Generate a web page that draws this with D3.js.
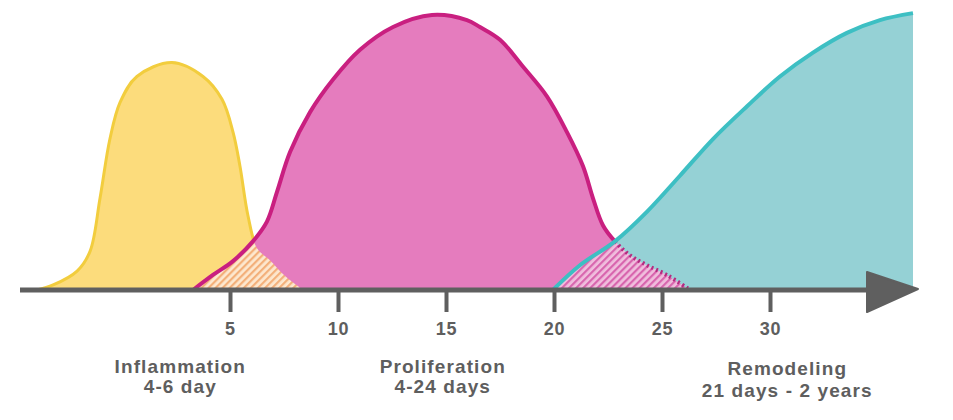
<!DOCTYPE html>
<html>
<head>
<meta charset="utf-8">
<script src="https://cdn.jsdelivr.net/npm/d3@7"></script>
<style>
  html, body { margin: 0; padding: 0; background: #ffffff; }
  svg { display: block; }
  text { font-family: "Liberation Sans", Arial, Helvetica, sans-serif; font-weight: bold; fill: #5e5e5e; }
</style>
</head>
<body>
<svg id="chart" width="953" height="420"></svg>
<script>
// ---- data (day, relative intensity 0-100) ----
const inflammation = [
  [-3.94, 0], [-3.19, 1.8], [-2.08, 6.8], [-1.48, 13.9], [-1.02, 32.9], [-0.56, 54.3],
  [-0.09, 67.5], [0.69, 76.8], [2.31, 81.8], [3.75, 76.8], [4.63, 68.6], [5.14, 56.8],
  [5.46, 44.6], [5.83, 26.8], [6.25, 15.0], [6.85, 10.7], [7.55, 5.0], [8.38, 0]
];
const proliferation = [
  [3.29, 0], [4.21, 5.4], [5.14, 10.4], [6.06, 17.5], [6.71, 24.6], [7.18, 35.4],
  [7.78, 49.6], [8.70, 63.9], [9.77, 75.7], [11.02, 86.4], [12.55, 94.6], [14.35, 98.9],
  [15.97, 97.1], [16.57, 94.6], [17.5, 90.0], [18.56, 80.4], [19.68, 69.6], [20.6, 56.8],
  [21.34, 44.6], [21.81, 32.9], [22.27, 23.2], [22.82, 17.5], [23.52, 12.5], [24.31, 8.9],
  [25.23, 5.4], [26.3, 0]
];
const remodeling = [
  [19.95, 0], [21.2, 8.9], [22.82, 17.5], [24.31, 28.2], [25.83, 41.1], [27.36, 54.3],
  [28.94, 66.1], [30.46, 76.8], [31.99, 85.4], [33.56, 92.5], [35.09, 97.1], [36.62, 99.6]
];
const tickValues = [5, 10, 15, 20, 25, 30];
const phaseNames = ["Inflammation", "Proliferation", "Remodeling"];
const phaseDurations = ["4-6 day", "4-24 days", "21 days - 2 years"];
const phaseCenters = [2.7, 14.85, 30.8];

// ---- layout ----
const svg = d3.select("#chart");
const x = d3.scaleLinear().domain([0, 30]).range([122, 770]);
const y = d3.scaleLinear().domain([0, 100]).range([290, 12]);
const baseY = y(0);
const curve = d3.curveCatmullRom.alpha(0.5);

const area = d3.area().x(d => x(d[0])).y0(baseY).y1(d => Math.min(baseY, y(d[1]))).curve(curve);
const line = d3.line().x(d => x(d[0])).y(d => y(d[1])).curve(curve);

const defs = svg.append("defs");
function hatch(id, bg, fg) {
  const p = defs.append("pattern").attr("id", id).attr("patternUnits", "userSpaceOnUse")
    .attr("width", 5).attr("height", 5).attr("patternTransform", "rotate(45)");
  p.append("rect").attr("width", 5).attr("height", 5).attr("fill", bg);
  p.append("rect").attr("width", 2.2).attr("height", 5).attr("fill", fg);
}
hatch("hatchYP", "#fde8cf", "#f3b07a");
hatch("hatchPT", "#f0bedd", "#d865ae");

defs.append("clipPath").attr("id", "clipY").append("path").attr("d", area(inflammation));
defs.append("clipPath").attr("id", "clipP").append("path").attr("d", area(proliferation));
defs.append("clipPath").attr("id", "clipT").append("path").attr("d", area(remodeling));

// yellow
svg.append("path").attr("d", area(inflammation)).attr("fill", "#fcdc7c");
svg.append("path").attr("d", line(inflammation)).attr("fill", "none").attr("stroke", "#f2cd3e").attr("stroke-width", 3);

// pink
svg.append("path").attr("d", area(proliferation)).attr("fill", "#e57cbe");
svg.append("g").attr("clip-path", "url(#clipY)")
  .append("rect").attr("clip-path", "url(#clipP)")
  .attr("x", 0).attr("y", 0).attr("width", 953).attr("height", 420).attr("fill", "url(#hatchYP)");
svg.append("path").attr("d", line(proliferation)).attr("fill", "none").attr("stroke", "#c91f80").attr("stroke-width", 4);

// teal
svg.append("path").attr("d", area(remodeling)).attr("fill", "#95d1d5");
svg.append("g").attr("clip-path", "url(#clipP)")
  .append("rect").attr("clip-path", "url(#clipT)")
  .attr("x", 0).attr("y", 0).attr("width", 953).attr("height", 420).attr("fill", "url(#hatchPT)");
svg.append("g").attr("clip-path", "url(#clipT)")
  .append("path").attr("d", line(proliferation)).attr("fill", "none")
  .attr("stroke", "#b52a80").attr("stroke-width", 4).attr("stroke-dasharray", "2,3");
svg.append("path").attr("d", line(remodeling)).attr("fill", "none").attr("stroke", "#3dbfc3").attr("stroke-width", 4);

// axis
const axisColor = "#5f5f5f";
svg.append("line").attr("x1", 20).attr("x2", 872).attr("y1", baseY).attr("y2", baseY)
  .attr("stroke", axisColor).attr("stroke-width", 5);
svg.append("path").attr("d", `M867,272 L918,289 L867,312 Z`).attr("fill", axisColor)
  .attr("stroke", axisColor).attr("stroke-width", 2).attr("stroke-linejoin", "round");

const ax = svg.append("g").attr("transform", `translate(0,${baseY})`)
  .call(d3.axisBottom(x).tickValues(tickValues).tickSize(22).tickPadding(10).tickFormat(d3.format("d")));
ax.select(".domain").remove();
ax.selectAll(".tick line").attr("stroke", axisColor).attr("stroke-width", 4);
ax.selectAll(".tick text").attr("font-size", 18).attr("letter-spacing", 0.8).attr("fill", "#5e5e5e")
  .attr("font-family", "Liberation Sans, Arial, sans-serif").attr("font-weight", "bold");

// phase labels
phaseNames.forEach((name, i) => {
  const cx = x(phaseCenters[i]);
  const dy = i === 2 ? 2 : 0;
  svg.append("text").attr("x", cx).attr("y", 373 + dy).attr("text-anchor", "middle")
    .attr("font-size", 19).attr("letter-spacing", 1.1).text(name);
  svg.append("text").attr("x", cx).attr("y", 393 + dy * 2).attr("text-anchor", "middle")
    .attr("font-size", 19).attr("letter-spacing", 1.1).text(phaseDurations[i]);
});
</script>
</body>
</html>
